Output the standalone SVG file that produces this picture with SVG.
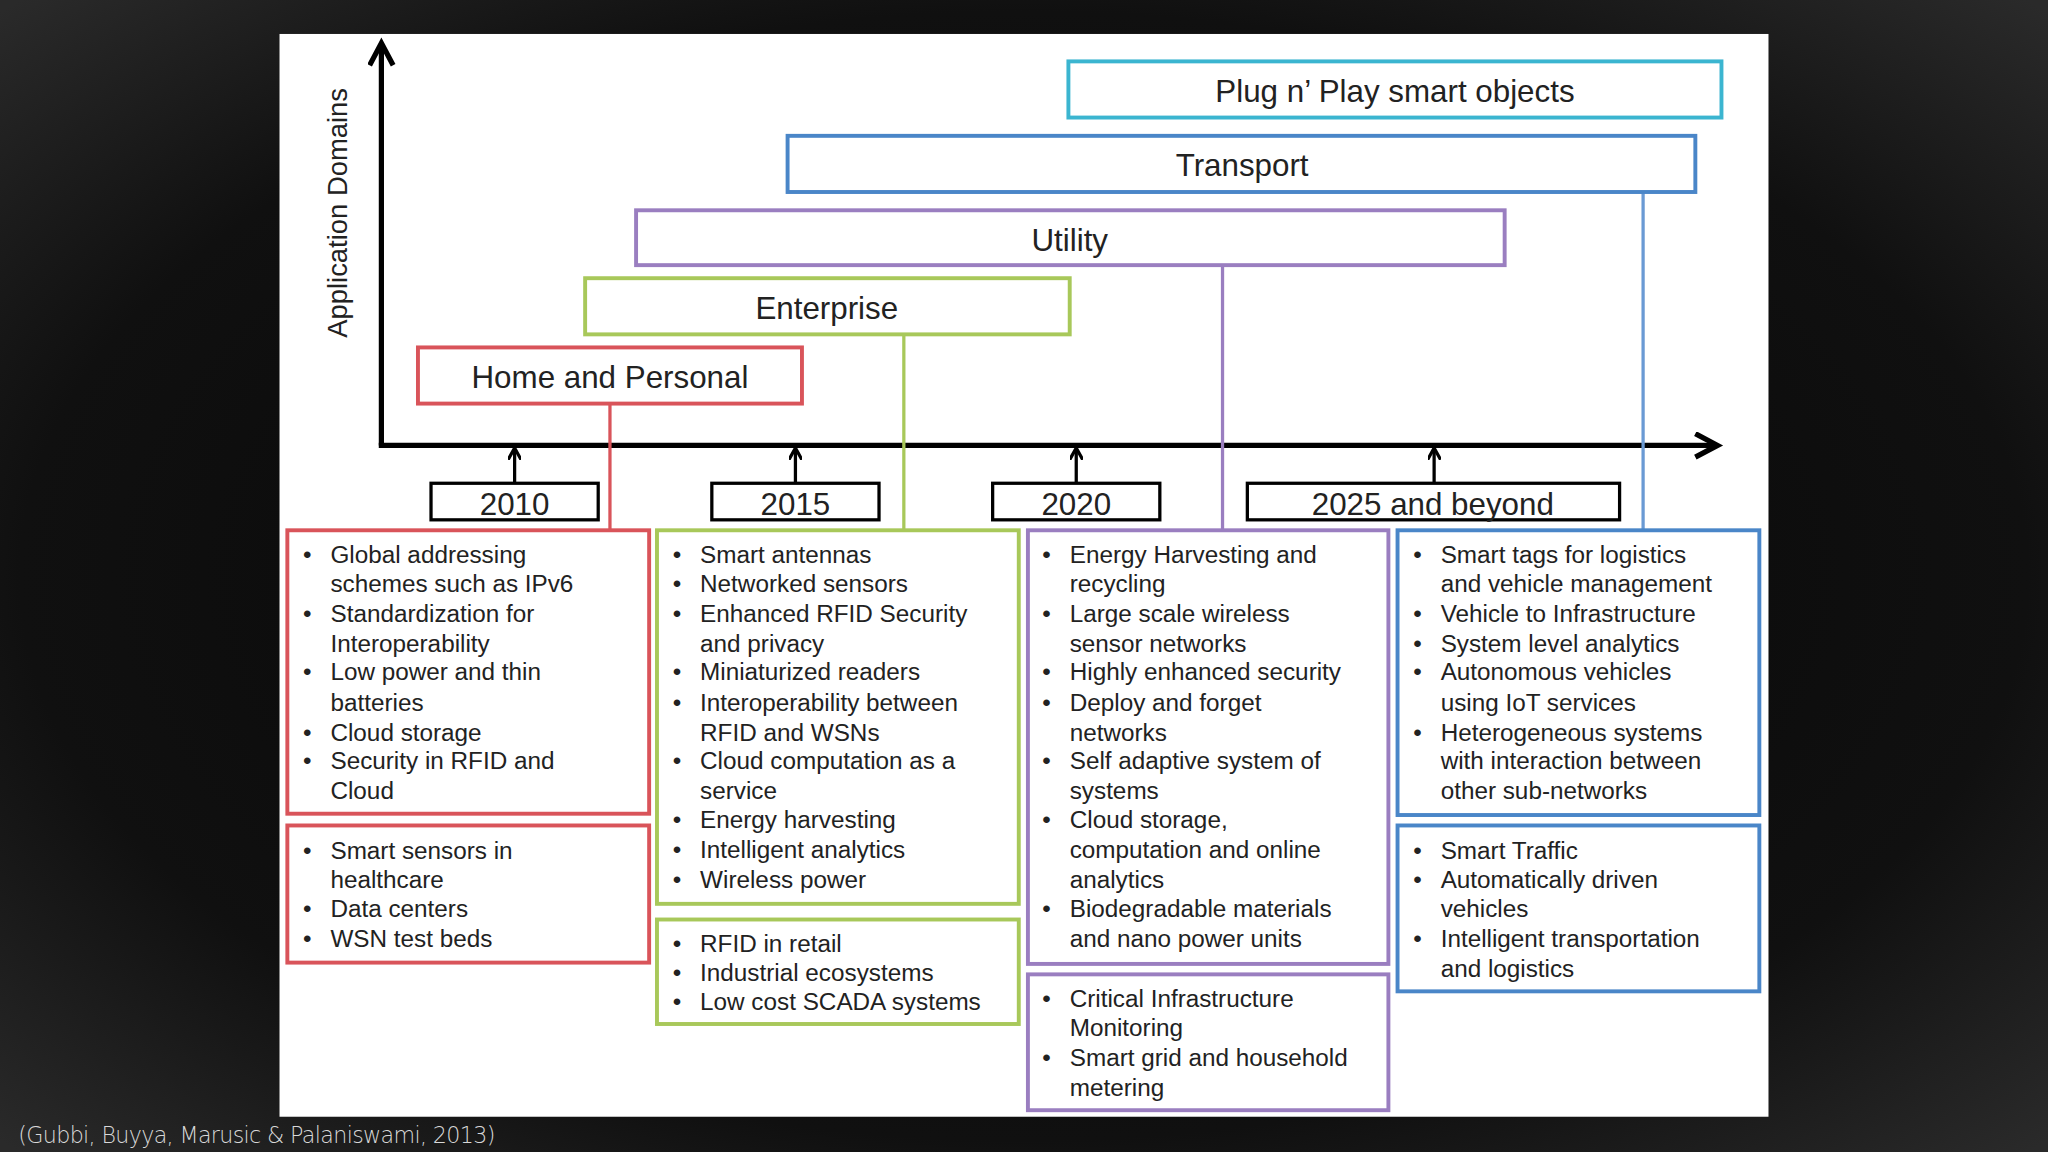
<svg xmlns="http://www.w3.org/2000/svg" width="2048" height="1152" viewBox="0 0 2048 1152">
<defs>
<radialGradient id="bg" cx="50%" cy="50%" r="70%"><stop offset="0" stop-color="#050505"/><stop offset="0.7" stop-color="#101010"/><stop offset="1" stop-color="#2a2a2a"/></radialGradient>
<marker id="ah" markerWidth="10" markerHeight="10" refX="8" refY="5" orient="auto" markerUnits="userSpaceOnUse"><path d="M0,0 L9,5 L0,10" fill="none" stroke="#000" stroke-width="2.5"/></marker>
<marker id="big" markerWidth="24" markerHeight="24" refX="18" refY="10" orient="auto" markerUnits="userSpaceOnUse"><path d="M2,1 L19,10 L2,19" fill="none" stroke="#000" stroke-width="4"/></marker>
<style>
text{font-family:"Liberation Sans",Arial,sans-serif;fill:#222}
.d{font-size:24px;text-anchor:middle}
.y{font-size:24px;text-anchor:middle}
.t{font-size:18.6px}
.box{fill:#fff;stroke-width:3}
.r{stroke:#d9545a}.g{stroke:#a8c85a}.p{stroke:#9a7ec0}.b{stroke:#4a86c8}.c{stroke:#3bb5d0}
.yr{fill:#fff;stroke:#000;stroke-width:2.5}
</style>
</defs>
<rect width="2048" height="1152" fill="url(#bg)"/>
<g transform="scale(1.30612)">
<rect x="214" y="26" width="1140" height="829" fill="#fff"/>
<g id="connectors" fill="none">
<line x1="292" y1="341" x2="292" y2="34" stroke="#000" stroke-width="4" marker-end="url(#big)"/>
<line x1="290" y1="341" x2="1314" y2="341" stroke="#000" stroke-width="4" marker-end="url(#big)"/>
<g stroke="#000" stroke-width="2.5" marker-end="url(#ah)">
<line x1="394" y1="370" x2="394" y2="344"/><line x1="609" y1="370" x2="609" y2="344"/>
<line x1="824" y1="370" x2="824" y2="344"/><line x1="1098" y1="370" x2="1098" y2="344"/>
</g>
<line x1="467" y1="309" x2="467" y2="406" stroke="#d9545a" stroke-width="2.5"/>
<line x1="692" y1="256" x2="692" y2="406" stroke="#a8c85a" stroke-width="2.5"/>
<line x1="936" y1="200" x2="936" y2="406" stroke="#9a7ec0" stroke-width="2.5"/>
<line x1="1258" y1="145" x2="1258" y2="406" stroke="#6a9ad4" stroke-width="2.5"/>
</g>
<text transform="translate(266,163) rotate(-90)" style="font-size:21px;text-anchor:middle">Application Domains</text>
<g id="plug"><rect class="box c" x="818" y="47" width="500" height="43"/><text class="d" x="1068" y="78">Plug n’ Play smart objects</text></g>
<g id="transport"><rect class="box b" x="603" y="104" width="695" height="43"/><text class="d" x="951" y="135">Transport</text></g>
<g id="utility"><rect class="box p" x="487" y="161" width="665" height="42"/><text class="d" x="819" y="192">Utility</text></g>
<g id="enterprise"><rect class="box g" x="448" y="213" width="371" height="43"/><text class="d" x="633" y="244">Enterprise</text></g>
<g id="home"><rect class="box r" x="320" y="266" width="294" height="43"/><text class="d" x="467" y="297">Home and Personal</text></g>
<g id="y2010"><rect class="yr" x="330" y="370" width="128" height="28"/><text class="y" x="394" y="394">2010</text></g>
<g id="y2015"><rect class="yr" x="545" y="370" width="128" height="28"/><text class="y" x="609" y="394">2015</text></g>
<g id="y2020"><rect class="yr" x="760" y="370" width="128" height="28"/><text class="y" x="824" y="394">2020</text></g>
<g id="y2025"><rect class="yr" x="955" y="370" width="285" height="28"/><text class="y" x="1097" y="394">2025 and beyond</text></g>
<g id="red1"><rect class="box r" x="220" y="406" width="277" height="217"/>
<text class="t"><tspan x="232" y="431">•</tspan><tspan x="253">Global addressing</tspan><tspan x="253" y="453">schemes such as IPv6</tspan><tspan x="232" y="476">•</tspan><tspan x="253">Standardization for</tspan><tspan x="253" y="499">Interoperability</tspan><tspan x="232" y="521">•</tspan><tspan x="253">Low power and thin</tspan><tspan x="253" y="544">batteries</tspan><tspan x="232" y="567">•</tspan><tspan x="253">Cloud storage</tspan><tspan x="232" y="589">•</tspan><tspan x="253">Security in RFID and</tspan><tspan x="253" y="612">Cloud</tspan></text></g>
<g id="red2"><rect class="box r" x="220" y="632" width="277" height="105"/>
<text class="t"><tspan x="232" y="658">•</tspan><tspan x="253">Smart sensors in</tspan><tspan x="253" y="680">healthcare</tspan><tspan x="232" y="702">•</tspan><tspan x="253">Data centers</tspan><tspan x="232" y="725">•</tspan><tspan x="253">WSN test beds</tspan></text></g>
<g id="green1"><rect class="box g" x="503" y="406" width="277" height="286"/>
<text class="t"><tspan x="515" y="431">•</tspan><tspan x="536">Smart antennas</tspan><tspan x="515" y="453">•</tspan><tspan x="536">Networked sensors</tspan><tspan x="515" y="476">•</tspan><tspan x="536">Enhanced RFID Security</tspan><tspan x="536" y="499">and privacy</tspan><tspan x="515" y="521">•</tspan><tspan x="536">Miniaturized readers</tspan><tspan x="515" y="544">•</tspan><tspan x="536">Interoperability between</tspan><tspan x="536" y="567">RFID and WSNs</tspan><tspan x="515" y="589">•</tspan><tspan x="536">Cloud computation as a</tspan><tspan x="536" y="612">service</tspan><tspan x="515" y="634">•</tspan><tspan x="536">Energy harvesting</tspan><tspan x="515" y="657">•</tspan><tspan x="536">Intelligent analytics</tspan><tspan x="515" y="680">•</tspan><tspan x="536">Wireless power</tspan></text></g>
<g id="green2"><rect class="box g" x="503" y="704" width="277" height="80"/>
<text class="t"><tspan x="515" y="729">•</tspan><tspan x="536">RFID in retail</tspan><tspan x="515" y="751">•</tspan><tspan x="536">Industrial ecosystems</tspan><tspan x="515" y="773">•</tspan><tspan x="536">Low cost SCADA systems</tspan></text></g>
<g id="purple1"><rect class="box p" x="787" y="406" width="276" height="332"/>
<text class="t"><tspan x="798" y="431">•</tspan><tspan x="819">Energy Harvesting and</tspan><tspan x="819" y="453">recycling</tspan><tspan x="798" y="476">•</tspan><tspan x="819">Large scale wireless</tspan><tspan x="819" y="499">sensor  networks</tspan><tspan x="798" y="521">•</tspan><tspan x="819">Highly enhanced security</tspan><tspan x="798" y="544">•</tspan><tspan x="819">Deploy and forget</tspan><tspan x="819" y="567">networks</tspan><tspan x="798" y="589">•</tspan><tspan x="819">Self adaptive system of</tspan><tspan x="819" y="612">systems</tspan><tspan x="798" y="634">•</tspan><tspan x="819">Cloud storage,</tspan><tspan x="819" y="657">computation and online</tspan><tspan x="819" y="680">analytics</tspan><tspan x="798" y="702">•</tspan><tspan x="819">Biodegradable materials</tspan><tspan x="819" y="725">and nano power units</tspan></text></g>
<g id="purple2"><rect class="box p" x="787" y="746" width="276" height="104"/>
<text class="t"><tspan x="798" y="771">•</tspan><tspan x="819">Critical Infrastructure</tspan><tspan x="819" y="793">Monitoring</tspan><tspan x="798" y="816">•</tspan><tspan x="819">Smart grid and household</tspan><tspan x="819" y="839">metering</tspan></text></g>
<g id="blue1"><rect class="box b" x="1070" y="406" width="277" height="218"/>
<text class="t"><tspan x="1082" y="431">•</tspan><tspan x="1103">Smart tags for logistics</tspan><tspan x="1103" y="453">and vehicle management</tspan><tspan x="1082" y="476">•</tspan><tspan x="1103">Vehicle to Infrastructure</tspan><tspan x="1082" y="499">•</tspan><tspan x="1103">System level analytics</tspan><tspan x="1082" y="521">•</tspan><tspan x="1103">Autonomous vehicles</tspan><tspan x="1103" y="544">using IoT services</tspan><tspan x="1082" y="567">•</tspan><tspan x="1103">Heterogeneous systems</tspan><tspan x="1103" y="589">with interaction between</tspan><tspan x="1103" y="612">other sub-networks</tspan></text></g>
<g id="blue2"><rect class="box b" x="1070" y="632" width="277" height="127"/>
<text class="t"><tspan x="1082" y="658">•</tspan><tspan x="1103">Smart Traffic</tspan><tspan x="1082" y="680">•</tspan><tspan x="1103">Automatically driven</tspan><tspan x="1103" y="702">vehicles</tspan><tspan x="1082" y="725">•</tspan><tspan x="1103">Intelligent transportation</tspan><tspan x="1103" y="748">and logistics</tspan></text></g>
<text x="14" y="875" style="font-size:17px;fill:#d8d8d8;font-family:'DejaVu Sans',sans-serif;font-weight:200;letter-spacing:-0.5px">(Gubbi, Buyya, Marusic &amp; Palaniswami, 2013)</text>
</g>
</svg>
